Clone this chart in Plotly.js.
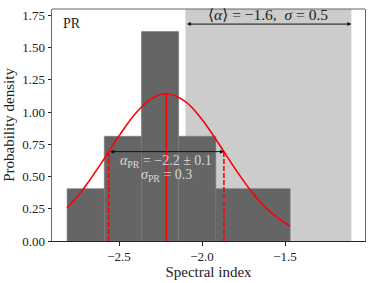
<!DOCTYPE html>
<html>
<head>
<meta charset="utf-8">
<script src="https://cdn.plot.ly/plotly-3.0.1.min.js"></script>
<style>html,body{margin:0;padding:0;background:#fff;}#chart{width:374px;height:283px;}</style>
</head>
<body>
<div id="chart"></div>
<script>
// Histogram bins (edges) and densities
const binEdges = [-2.813, -2.589, -2.365, -2.141, -1.917, -1.469];
const binDensity = [0.406, 0.812, 1.624, 0.812, 0.406];

// Gaussian fit curve
const curveX = [-2.813, -2.75, -2.7, -2.6, -2.5, -2.4, -2.3, -2.215, -2.1, -2.0, -1.9, -1.8, -1.7, -1.6, -1.469];
const curveY = [0.259, 0.345, 0.430, 0.617, 0.815, 0.991, 1.108, 1.142, 1.081, 0.943, 0.756, 0.559, 0.380, 0.237, 0.113];

// Fit results
const fitMean = -2.215;
const fitPeak = 1.142;
const fitLo = -2.562;
const fitHi = -1.868;
const fitSigmaLevel = 0.693;

// Reference range
const refLo = -2.1;
const refHi = -1.1;
const refArrowY = 1.682;

const xTicks = [-2.5, -2.0, -1.5];
const yTicks = [0, 0.25, 0.5, 0.75, 1.0, 1.25, 1.5, 1.75];

const centers = [], widths = [];
for (let i = 0; i < binDensity.length; i++) {
  centers.push((binEdges[i] + binEdges[i + 1]) / 2);
  widths.push(binEdges[i + 1] - binEdges[i]);
}

const FONT = '"Liberation Serif", "Times New Roman", "DejaVu Serif", serif';

const traces = [
  {
    type: 'bar', x: centers, y: binDensity, width: widths,
    marker: {color: '#656565', line: {color: '#787878', width: 0.6}},
    hoverinfo: 'skip', showlegend: false
  },
  {
    type: 'scatter', mode: 'lines', x: curveX, y: curveY,
    line: {color: '#ff0000', width: 1.6, shape: 'spline', smoothing: 1},
    showlegend: false
  },
  {
    type: 'scatter', mode: 'lines', x: [fitMean, fitMean], y: [0, fitPeak],
    line: {color: '#ff0000', width: 1.6}, showlegend: false
  },
  {
    type: 'scatter', mode: 'lines', x: [fitLo, fitLo], y: [0, fitSigmaLevel],
    line: {color: '#ff0000', width: 1.6, dash: '5px,2px'}, showlegend: false
  },
  {
    type: 'scatter', mode: 'lines', x: [fitHi, fitHi], y: [0, fitSigmaLevel],
    line: {color: '#ff0000', width: 1.6, dash: '5px,2px'}, showlegend: false
  }
];

const layout = {
  width: 374, height: 283,
  margin: {l: 52, r: 9, t: 9, b: 42},
  paper_bgcolor: '#fff', plot_bgcolor: '#fff',
  font: {family: FONT, size: 13, color: '#222'},
  bargap: 0,
  xaxis: {
    range: [-2.904, -1.018], tickvals: xTicks, ticktext: xTicks.map(v => '\u2212' + Math.abs(v).toFixed(1)),
    ticks: 'outside', ticklen: 3.5, tickcolor: '#222', showgrid: false, zeroline: false,
    showline: true, linecolor: '#222', linewidth: 1,
    tickfont: {family: FONT, size: 13, color: '#222'},
    title: {text: 'Spectral index', font: {family: FONT, size: 15, color: '#222'}, standoff: 2}
  },
  yaxis: {
    range: [0, 1.799], tickvals: yTicks, ticktext: yTicks.map(v => v.toFixed(2)),
    ticks: 'outside', ticklen: 3.5, tickcolor: '#222', showgrid: false, zeroline: false,
    showline: true, linecolor: '#666', linewidth: 1, mirror: true,
    tickfont: {family: FONT, size: 13, color: '#222'},
    title: {text: 'Probability density', font: {family: FONT, size: 15, color: '#222'}, standoff: 3}
  },
  shapes: [
    {type: 'rect', xref: 'x', yref: 'paper', x0: refLo, x1: refHi, y0: 0, y1: 1,
     fillcolor: '#cccccc', line: {width: 0}, layer: 'below'},
    {type: 'line', xref: 'paper', yref: 'paper', x0: 0, x1: 1, y0: 1, y1: 1,
     line: {color: '#666', width: 1}}
  ],
  annotations: [
    {x: refHi, y: refArrowY, ax: refLo, ay: refArrowY, xref: 'x', yref: 'y', axref: 'x', ayref: 'y',
     text: '', showarrow: true, arrowhead: 2, startarrowhead: 2, arrowside: 'end+start',
     arrowsize: 0.8, startarrowsize: 0.8, arrowwidth: 1, arrowcolor: '#111'},
    {x: (refLo + refHi) / 2, y: refArrowY, xref: 'x', yref: 'y', yanchor: 'bottom', yshift: -1,
     text: '\u27E8<i>\u03B1</i>\u27E9 = \u22121.6,  <i>\u03C3</i> = 0.5', showarrow: false,
     font: {family: FONT, size: 15.5, color: '#222'}},
    {x: fitHi, y: fitSigmaLevel, ax: fitLo, ay: fitSigmaLevel, xref: 'x', yref: 'y', axref: 'x', ayref: 'y',
     text: '', showarrow: true, arrowhead: 2, startarrowhead: 2, arrowside: 'end+start',
     arrowsize: 0.8, startarrowsize: 0.8, arrowwidth: 1, arrowcolor: '#111'},
    {x: fitMean, y: fitSigmaLevel, xref: 'x', yref: 'y', yanchor: 'middle', yshift: -10,
     text: '<i>\u03B1</i><sub>PR</sub> = \u22122.2 \u00B1 0.1', showarrow: false,
     font: {family: FONT, size: 14, color: '#d8d8d8'}},
    {x: fitMean, y: fitSigmaLevel, xref: 'x', yref: 'y', yanchor: 'middle', yshift: -24,
     text: '<i>\u03C3</i><sub>PR</sub> = 0.3', showarrow: false,
     font: {family: FONT, size: 14, color: '#d8d8d8'}},
    {x: 0.03, y: 0.98, xref: 'paper', yref: 'paper', xanchor: 'left', yanchor: 'top',
     text: 'PR', showarrow: false, font: {family: FONT, size: 14, color: '#222'}}
  ]
};

Plotly.newPlot('chart', traces, layout, {staticPlot: true, displayModeBar: false});
</script>
</body>
</html>
